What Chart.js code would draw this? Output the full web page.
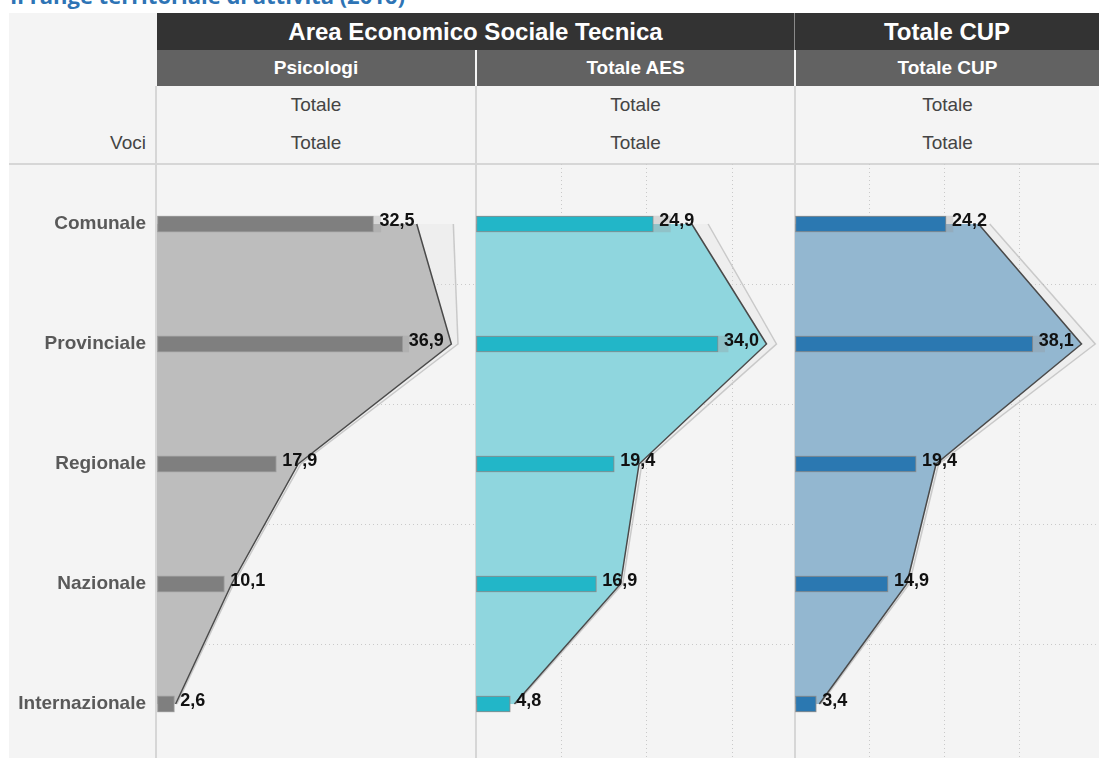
<!DOCTYPE html>
<html lang="it">
<head>
<meta charset="utf-8">
<title>Il range territoriale di attività (2016)</title>
<script src="https://cdn.jsdelivr.net/npm/chart.js@4.4.1/dist/chart.umd.min.js"></script>
<style>
  html, body { margin: 0; padding: 0; width: 1099px; height: 758px; overflow: hidden; background: #fff; }
  body { position: relative; font-family: 'Liberation Sans', Arial, sans-serif; }
  .title { position: absolute; left: 10px; top: -16px; font: bold 22px/22px 'Open Sans', sans-serif; color: #2e74b5; white-space: nowrap; }
  .board { position: absolute; left: 9px; top: 13px; width: 1090px; height: 760px; background: #f4f4f4; }
  .cell { position: absolute; display: flex; align-items: center; justify-content: center; white-space: nowrap; }
  .band1 { background: #333; color: #fff; font-weight: bold; font-size: 24px; }
  .band2 { background: #626262; color: #fff; font-weight: bold; font-size: 19px; }
  .sub { color: #444; font-size: 19px; }
  .voci { justify-content: flex-end; }
  .rule { position: absolute; background: #d6d6d6; }
  canvas { position: absolute; display: block; }
</style>
</head>
<body>
<div class="title">Il range territoriale di attività (2016)</div>
<div class="board"></div>

<div class="cell band1" style="left:157px;top:13px;width:637px;height:37px">Area Economico Sociale Tecnica</div>
<div class="cell band1" style="left:795px;top:13px;width:304px;height:37px">Totale CUP</div>
<div class="rule" style="left:794px;top:13px;width:1px;height:37px;background:#8a8a8a"></div>

<div class="cell band2" style="left:157px;top:50px;width:318px;height:36px">Psicologi</div>
<div class="cell band2" style="left:477px;top:50px;width:317px;height:36px">Totale AES</div>
<div class="cell band2" style="left:796px;top:50px;width:303px;height:36px">Totale CUP</div>

<div class="cell sub" style="left:157px;top:86px;width:318px;height:38px">Totale</div>
<div class="cell sub" style="left:477px;top:86px;width:317px;height:38px">Totale</div>
<div class="cell sub" style="left:796px;top:86px;width:303px;height:38px">Totale</div>
<div class="cell sub voci" style="left:9px;top:124px;width:137px;height:38px">Voci</div>
<div class="cell sub" style="left:157px;top:124px;width:318px;height:38px">Totale</div>
<div class="cell sub" style="left:477px;top:124px;width:317px;height:38px">Totale</div>
<div class="cell sub" style="left:796px;top:124px;width:303px;height:38px">Totale</div>

<div class="rule" style="left:155px;top:86px;width:2px;height:672px"></div>
<div class="rule" style="left:475px;top:86px;width:2px;height:672px"></div>
<div class="rule" style="left:794px;top:86px;width:2px;height:672px"></div>
<div class="rule" style="left:9px;top:163px;width:1090px;height:2px"></div>

<canvas id="panelPsicologi" width="467" height="600" style="left:9px;top:164px"></canvas>
<canvas id="panelAes" width="319" height="600" style="left:476px;top:164px"></canvas>
<canvas id="panelCup" width="304" height="600" style="left:795px;top:164px"></canvas>

<script>
const categories = ['Comunale', 'Provinciale', 'Regionale', 'Nazionale', 'Internazionale'];

const psicologiValues = [32.5, 36.9, 17.9, 10.1, 2.6];
const aesValues = [24.9, 34.0, 19.4, 16.9, 4.8];
const cupValues = [24.2, 38.1, 19.4, 14.9, 3.4];

// sagoma dell'area dietro le barre
const psicologiArea = [39.0, 44.2, 21.2, 11.2, 2.8];
const aesArea = [30.3, 40.8, 22.9, 20.3, 5.4];
const cupArea = [29.4, 45.9, 22.6, 17.9, 3.9];

// alone chiaro attorno all'area
const psicologiGhost = [44.5, 45.2, 21.6, 11.5, 3.0];
const aesGhost = [32.6, 42.2, 23.3, 20.6, 5.6];
const cupGhost = [31.2, 48.1, 23.0, 18.3, 4.1];

// coda chiara oltre la barra
const psicologiShadow = [33.6, 37.8, 17.9, 10.1, 2.6];
const aesShadow = [27.3, 35.4, 19.4, 16.9, 4.8];
const cupShadow = [25.3, 40.0, 19.4, 14.9, 3.4];

const axisMax = [47.9, 44.8, 48.7];
const gridStep = 12;

const gridColor = '#c9c9c9';
const labelFont = 'bold 18px "Liberation Sans", Arial, sans-serif';

const valueLabels = {
  id: 'valueLabels',
  afterDatasetsDraw(chart) {
    const meta = chart.getDatasetMeta(0);
    const values = chart.data.datasets[0].data;
    const { ctx } = chart;
    ctx.save();
    ctx.font = labelFont;
    ctx.fillStyle = '#111';
    ctx.textAlign = 'left';
    ctx.textBaseline = 'middle';
    meta.data.forEach((bar, i) => {
      ctx.fillText(values[i].toFixed(1).replace('.', ','), bar.x + 6, bar.y - 3);
    });
    ctx.restore();
  }
};

init();

function init() {
  buildPanel('panelPsicologi', {
    values: psicologiValues, shadow: psicologiShadow, area: psicologiArea, ghost: psicologiGhost,
    max: axisMax[0], barColor: '#7f7f7f', barBorder: '#9a9a9a', areaColor: '#bdbdbd', showLabels: true
  });
  buildPanel('panelAes', {
    values: aesValues, shadow: aesShadow, area: aesArea, ghost: aesGhost,
    max: axisMax[1], barColor: '#22b6c8', barBorder: '#8c8c8c', areaColor: '#8fd6de', showLabels: false
  });
  buildPanel('panelCup', {
    values: cupValues, shadow: cupShadow, area: cupArea, ghost: cupGhost,
    max: axisMax[2], barColor: '#2b78b1', barBorder: '#8c8c8c', areaColor: '#93b7d0', showLabels: false
  });
}

function buildPanel(canvasId, panel) {
  const canvas = document.getElementById(canvasId);
  return new Chart(canvas, {
    type: 'bar',
    data: {
      labels: categories,
      datasets: [
        {
          type: 'bar', data: panel.values, backgroundColor: panel.barColor,
          borderColor: panel.barBorder, borderWidth: 1, borderSkipped: false,
          barThickness: 16, grouped: false, order: 0
        },
        {
          type: 'bar', data: panel.shadow, backgroundColor: 'rgba(150, 150, 150, 0.3)',
          borderWidth: 0, barThickness: 16, grouped: false, order: 1
        },
        {
          type: 'line', data: panel.area, borderColor: '#4a4a4a', borderWidth: 1.5,
          backgroundColor: panel.areaColor, fill: 'origin', pointRadius: 0, tension: 0, order: 2
        },
        {
          type: 'line', data: panel.ghost, borderColor: 'rgba(175, 175, 175, 0.6)', borderWidth: 1.5,
          backgroundColor: 'rgba(220, 220, 220, 0.25)', fill: 'origin', pointRadius: 0, tension: 0, order: 3
        }
      ]
    },
    options: {
      indexAxis: 'y',
      responsive: false,
      animation: false,
      events: [],
      layout: { padding: 0 },
      plugins: { legend: { display: false }, tooltip: { enabled: false } },
      scales: {
        x: {
          type: 'linear',
          min: 0,
          max: panel.max,
          position: 'bottom',
          ticks: { display: false, stepSize: gridStep },
          afterBuildTicks: (scale) => {
            scale.ticks = scale.ticks.filter((t) => Math.abs(t.value / gridStep - Math.round(t.value / gridStep)) < 1e-6 && t.value < scale.max);
          },
          grid: {
            color: (ctx) => (ctx.tick && ctx.tick.value > 0 ? gridColor : 'transparent'),
            lineWidth: 1,
            drawTicks: false
          },
          border: { display: false, dash: [1, 3] },
          afterFit: (scale) => {
            scale.height = 0;
            scale.paddingLeft = 0;
            scale.paddingRight = 0;
          }
        },
        y: {
          type: 'category',
          offset: true,
          position: 'left',
          ticks: {
            display: panel.showLabels,
            color: '#595959',
            padding: 11,
            font: { family: 'Liberation Sans', size: 19, weight: 'bold' }
          },
          grid: {
            offset: true,
            color: (ctx) => (ctx.index === 0 ? 'transparent' : gridColor),
            lineWidth: 1,
            drawTicks: false
          },
          border: { display: false, dash: [1, 3] },
          afterFit: (scale) => {
            scale.width = panel.showLabels ? 148 : 0;
            scale.paddingTop = 0;
            scale.paddingBottom = 0;
          }
        }
      }
    },
    plugins: [valueLabels]
  });
}
</script>
</body>
</html>
